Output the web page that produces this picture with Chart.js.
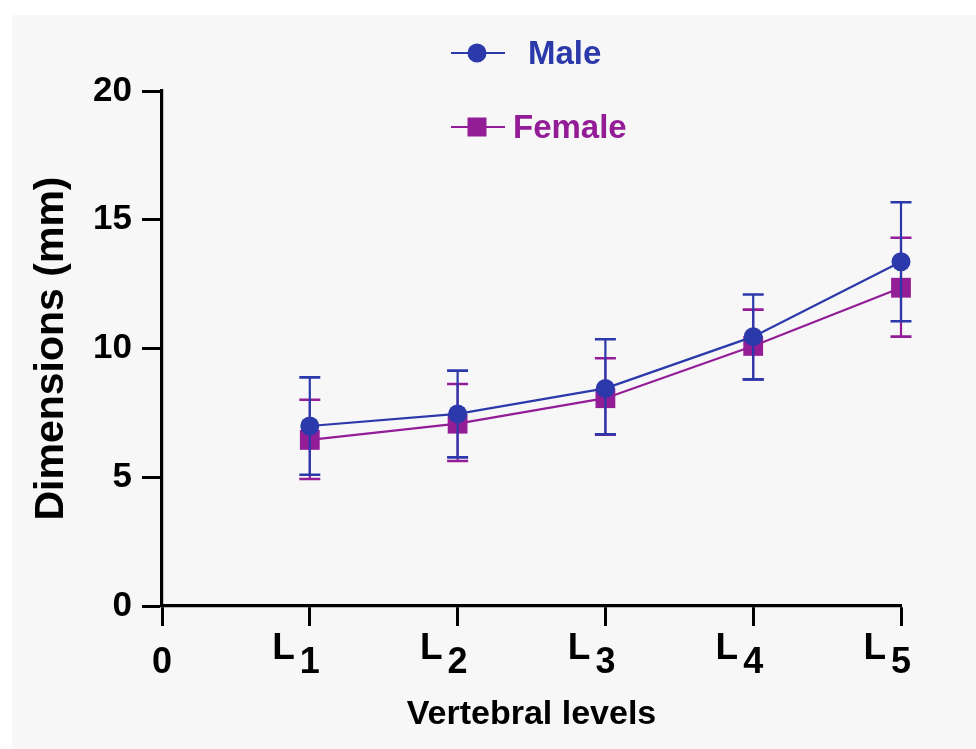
<!DOCTYPE html>
<html>
<head>
<meta charset="utf-8">
<script src="https://cdn.jsdelivr.net/npm/chart.js@4.4.1/dist/chart.umd.min.js"></script>
<style>
html,body{margin:0;padding:0;background:#ffffff;}
#wrap{width:976px;height:749px;position:relative;}
canvas{display:block;}
</style>
</head>
<body>
<div id="wrap"><canvas id="c" width="976" height="749"></canvas></div>
<script>
// ---- data ----
const categories = ['L1', 'L2', 'L3', 'L4', 'L5'];
const xPositions = [1, 2, 3, 4, 5];
const xTickLabels = ['0', 'L1', 'L2', 'L3', 'L4', 'L5'];
const yTickValues = [0, 5, 10, 15, 20];
const seriesNames = ['Male', 'Female'];

const maleMean = [6.99, 7.46, 8.45, 10.46, 13.37];
const maleLow = [5.10, 5.77, 6.67, 8.80, 11.06];
const maleHigh = [8.88, 9.14, 10.36, 12.10, 15.68];

const femaleMean = [6.45, 7.08, 8.07, 10.10, 12.36];
const femaleLow = [4.93, 5.63, 6.65, 8.80, 10.46];
const femaleHigh = [8.01, 8.62, 9.62, 11.51, 14.30];

const xTitle = 'Vertebral levels';
const yTitle = 'Dimensions (mm)';

// ---- styling ----
const FONT = '"Liberation Sans", Arial, Helvetica, sans-serif';
const MALE_COLOR = '#2b39ab';
const FEMALE_COLOR = '#931c97';

const toPoints = (vals) => vals.map((v, i) => ({ x: xPositions[i], y: v }));

const errorBars = [
  { low: maleLow, high: maleHigh },
  { low: femaleLow, high: femaleHigh }
];

const bgPlugin = {
  id: 'panelBg',
  beforeDraw(chart) {
    const ctx = chart.ctx;
    ctx.save();
    ctx.fillStyle = '#ffffff';
    ctx.fillRect(0, 0, chart.width, chart.height);
    ctx.fillStyle = '#f7f7f7';
    ctx.fillRect(12, 15, chart.width - 12, chart.height - 15);
    ctx.restore();
  }
};

const errorBarPlugin = {
  id: 'errorBars',
  afterDatasetDraw(chart, args) {
    const i = args.index;
    const eb = errorBars[i];
    if (!eb) return;
    const ds = chart.data.datasets[i];
    const xs = chart.scales.x, ys = chart.scales.y;
    const ctx = chart.ctx;
    ctx.save();
    ctx.strokeStyle = ds.borderColor;
    ctx.lineCap = 'butt';
    const capHalf = 10.5;
    for (let k = 0; k < eb.low.length; k++) {
      const px = xs.getPixelForValue(xPositions[k]);
      const yl = ys.getPixelForValue(eb.low[k]);
      const yh = ys.getPixelForValue(eb.high[k]);
      ctx.lineWidth = 2.2;
      ctx.beginPath();
      ctx.moveTo(px, yl); ctx.lineTo(px, yh);
      ctx.stroke();
      ctx.lineWidth = 2.6;
      ctx.beginPath();
      ctx.moveTo(px - capHalf, yl); ctx.lineTo(px + capHalf, yl);
      ctx.moveTo(px - capHalf, yh); ctx.lineTo(px + capHalf, yh);
      ctx.stroke();
    }
    ctx.restore();
  }
};

const xLabelPlugin = {
  id: 'xLabels',
  afterDraw(chart) {
    const xs = chart.scales.x;
    const ctx = chart.ctx;
    ctx.save();
    ctx.fillStyle = '#000000';
    ctx.textBaseline = 'alphabetic';
    xTickLabels.forEach((lab, i) => {
      const px = xs.getPixelForValue(i);
      if (lab.startsWith('L')) {
        const digit = lab.slice(1);
        ctx.font = 'bold 36px ' + FONT;
        const dw = ctx.measureText(digit).width;
        ctx.textAlign = 'center';
        ctx.fillText(digit, px, 673);
        ctx.font = 'bold 37px ' + FONT;
        ctx.textAlign = 'right';
        ctx.fillText('L', px - dw / 2 - 5, 659);
      } else {
        ctx.font = 'bold 36px ' + FONT;
        ctx.textAlign = 'center';
        ctx.fillText(lab, px, 673);
      }
    });
    ctx.restore();
  }
};

const legendPlugin = {
  id: 'customLegend',
  afterDraw(chart) {
    const ctx = chart.ctx;
    const rowY = [53, 127];
    const textX = [528, 513];
    ctx.save();
    chart.data.datasets.forEach((ds, i) => {
      const y = rowY[i];
      ctx.strokeStyle = ds.borderColor;
      ctx.lineWidth = 2;
      ctx.beginPath();
      ctx.moveTo(451, y); ctx.lineTo(505, y);
      ctx.stroke();
      ctx.fillStyle = ds.backgroundColor;
      if (ds.pointStyle === 'circle') {
        ctx.beginPath();
        ctx.arc(477, y, 9.5, 0, Math.PI * 2);
        ctx.fill();
      } else {
        ctx.fillRect(467.5, y - 9.5, 19, 19);
      }
      ctx.fillStyle = ds.borderColor;
      ctx.font = 'bold 33px ' + FONT;
      ctx.textAlign = 'left';
      ctx.textBaseline = 'alphabetic';
      ctx.fillText(ds.label, textX[i], y + 11);
    });
    ctx.restore();
  }
};

new Chart(document.getElementById('c'), {
  type: 'line',
  data: {
    labels: categories,
    datasets: [
      {
        label: seriesNames[0],
        data: toPoints(maleMean),
        borderColor: MALE_COLOR,
        backgroundColor: MALE_COLOR,
        borderWidth: 2.2,
        pointStyle: 'circle',
        pointRadius: 9.5,
        pointBorderWidth: 0,
        pointBackgroundColor: MALE_COLOR,
        tension: 0,
        fill: false,
        clip: false
      },
      {
        label: seriesNames[1],
        data: toPoints(femaleMean),
        borderColor: FEMALE_COLOR,
        backgroundColor: FEMALE_COLOR,
        borderWidth: 2.2,
        pointStyle: 'rect',
        pointRadius: 14,
        pointBorderWidth: 0,
        pointBackgroundColor: FEMALE_COLOR,
        tension: 0,
        fill: false,
        clip: false
      }
    ]
  },
  options: {
    responsive: false,
    animation: false,
    devicePixelRatio: 1,
    layout: { padding: { left: 12, right: 75, top: 91, bottom: 0 } },
    plugins: {
      legend: { display: false },
      tooltip: { enabled: false }
    },
    events: [],
    scales: {
      x: {
        type: 'linear',
        min: 0,
        max: 5,
        afterBuildTicks: (s) => { s.ticks = xTickLabels.map((_, i) => ({ value: i })); },
        ticks: { display: false },
        grid: { drawOnChartArea: false, drawTicks: true, tickLength: 20, tickWidth: 3, tickColor: '#000000' },
        border: { display: true, color: '#000000', width: 3.2 },
        title: {
          display: true, text: xTitle, color: '#000000',
          font: { family: FONT, size: 34, weight: 'bold' },
          padding: { top: 0, bottom: 14 }
        },
        afterFit: (s) => { s.height = 143; }
      },
      y: {
        type: 'linear',
        min: 0,
        max: 20,
        afterBuildTicks: (s) => { s.ticks = yTickValues.map(v => ({ value: v })); },
        ticks: {
          color: '#000000',
          font: { family: FONT, size: 35, weight: 'bold' },
          padding: 10
        },
        grid: { drawOnChartArea: false, drawTicks: true, tickLength: 20, tickWidth: 3, tickColor: '#000000' },
        border: { display: true, color: '#000000', width: 3.2 },
        title: {
          display: true, text: yTitle, color: '#000000',
          font: { family: FONT, size: 41, weight: 'bold' },
          padding: { top: 15, bottom: 0 }
        },
        afterFit: (s) => { s.width = 150; }
      }
    }
  },
  plugins: [bgPlugin, errorBarPlugin, xLabelPlugin, legendPlugin]
});
</script>
</body>
</html>
